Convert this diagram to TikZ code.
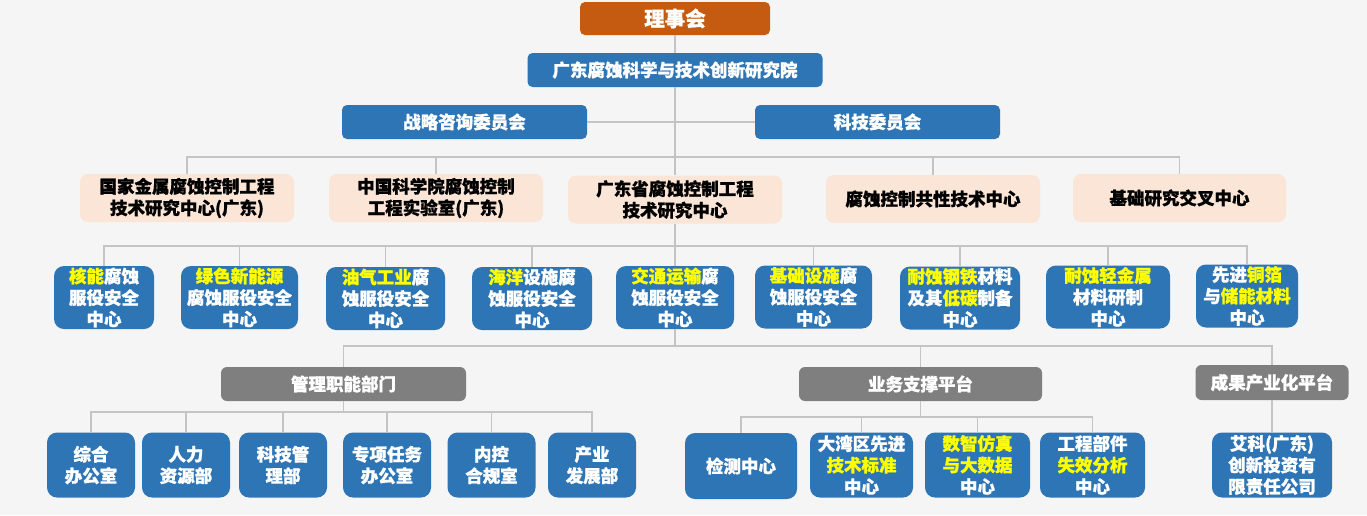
\documentclass[tikz,border=0pt]{standalone}
\usepackage{fontspec}
\setmainfont{Noto Sans CJK SC Bold}[FakeBold=1]
\usetikzlibrary{positioning}
\definecolor{boxblue}{HTML}{2E75B6}
\definecolor{boxorange}{HTML}{C55A11}
\definecolor{boxpeach}{HTML}{FBE5D6}
\definecolor{boxgray}{HTML}{7F7F7F}
\definecolor{linegray}{HTML}{C4C4C4}
\definecolor{bgcolor}{HTML}{F5F5F5}
\definecolor{hlyellow}{HTML}{FFFF00}
\newcommand{\yel}[1]{\textcolor{hlyellow}{#1}}

\begin{document}
\begin{tikzpicture}
  [x=1pt, y=-1pt,
   every node/.style={shape=rectangle, align=center, inner sep=0pt,
     font=\bfseries\fontsize{17.5}{21.5}\selectfont},
   topbox/.style={fill=boxblue, text=white, rounded corners=5pt,
     minimum width=245pt, minimum height=34pt},
   peachbox/.style={fill=boxpeach, text=black, rounded corners=8pt,
     minimum width=214pt, minimum height=48pt},
   centerbox/.style={fill=boxblue, text=white, rounded corners=10pt,
     minimum height=63pt},
   graybox/.style={fill=boxgray, text=white, rounded corners=6pt,
     minimum height=34pt},
   deptbox/.style={fill=boxblue, text=white, rounded corners=10pt,
     minimum width=88pt, minimum height=65pt},
   link/.style={draw=linegray, line width=1.3pt}]

  \fill[bgcolor] (0,0) rectangle (1367,515);
  \useasboundingbox (0,0) rectangle (1367,515);

  % top levels
  \node[fill=boxorange, text=white, rounded corners=5pt, minimum width=190pt,
    minimum height=33pt, font=\bfseries\fontsize{20.5}{24}\selectfont]
    (lsh) at (675,18.5) {理事会};
  \node[topbox, minimum width=295pt] (yjy) at (675,70) {广东腐蚀科学与技术创新研究院};
  \node[topbox] (zl) at (464.5,122) {战略咨询委员会};
  \node[topbox] (kj) at (877.5,122) {科技委员会};

  % research platforms
  \node[peachbox] (gj) at (187,198) {国家金属腐蚀控制工程\\技术研究中心(广东)};
  \node[peachbox] (zk) at (436,198) {中国科学院腐蚀控制\\工程实验室(广东)};
  \node[peachbox] (gds) at (675,199.5) {广东省腐蚀控制工程\\技术研究中心};
  \node[peachbox] (gx) at (933,199) {腐蚀控制共性技术中心};
  \node[peachbox, minimum width=213pt] (jc) at (1179.5,198) {基础研究交叉中心};

  % centers
  \node[centerbox, minimum width=100pt] (hn) at (104,297.5) {\yel{核能}腐蚀\\服役安全\\中心};
  \node[centerbox, minimum width=117pt] (ls) at (239.5,297.5) {\yel{绿色新能源}\\腐蚀服役安全\\中心};
  \node[centerbox, minimum width=119pt] (yq) at (385.5,298.5) {\yel{油气工业}腐\\蚀服役安全\\中心};
  \node[centerbox, minimum width=120pt] (hy) at (532,298.5) {\yel{海洋}设施腐\\蚀服役安全\\中心};
  \node[centerbox, minimum width=118pt] (jt) at (675,297.5) {\yel{交通运输}腐\\蚀服役安全\\中心};
  \node[centerbox, minimum width=117pt] (jcss) at (813.5,297) {\yel{基础设施}腐\\蚀服役安全\\中心};
  \node[centerbox, minimum width=120pt] (gt) at (960,298) {\yel{耐蚀钢铁}材料\\及其\yel{低碳}制备\\中心};
  \node[centerbox, minimum width=124pt] (qjs) at (1108,297) {\yel{耐蚀轻金属}\\材料研制\\中心};
  \node[centerbox, minimum width=102pt] (tb) at (1247,296) {先进\yel{铜箔}\\与\yel{储能材料}\\中心};

  % platforms
  \node[graybox, minimum width=245pt] (gl) at (343.5,384) {管理职能部门};
  \node[graybox, minimum width=243pt] (yw) at (920.5,384) {业务支撑平台};
  \node[graybox, minimum width=153pt, minimum height=35pt] (cg) at (1272,382.5) {成果产业化平台};

  % departments
  \node[deptbox] (zh) at (91,465) {综合\\办公室};
  \node[deptbox] (rl) at (186,465) {人力\\资源部};
  \node[deptbox] (kjg) at (283,465) {科技管\\理部};
  \node[deptbox] (zx) at (387,465) {专项任务\\办公室};
  \node[deptbox] (nk) at (491.5,465) {内控\\合规室};
  \node[deptbox] (cy) at (592,465) {产业\\发展部};
  \node[deptbox, minimum width=112pt, minimum height=66pt] (jiance) at (741,466) {检测中心};
  \node[deptbox, minimum width=103pt] (dwq) at (861.5,465) {大湾区先进\\\yel{技术标准}\\中心};
  \node[deptbox, minimum width=105pt] (sz) at (977.5,465) {\yel{数智仿真}\\\yel{与大数据}\\中心};
  \node[deptbox, minimum width=105pt] (gc) at (1092.5,465) {工程部件\\\yel{失效分析}\\中心};
  \node[deptbox, minimum width=120pt] (ak) at (1272,465) {艾科(广东)\\创新投资有\\限责任公司};

  % bus points
  \coordinate (b3) at (675,157);
  \coordinate (b4) at (675,246);
  \coordinate (b5) at (675,346);
  \coordinate (b6a) at (343.5,412);
  \coordinate (b6b) at (920.5,417);

  % trunk
  \draw[link] (lsh) -- (yjy);
  \draw[link] (yjy) -- (gds);
  \draw[link] (gds) -- (jt);
  \draw[link] (jt) -- (b5);
  \draw[link] (zl) -- (kj);

  % buses and ticks
  \draw[link] (gj) |- (b3) -| (jc);
  \foreach \n in {zk,gx} \draw[link] (\n) -- (\n |- b3);
  \draw[link] (hn) |- (b4) -| (tb);
  \foreach \n in {ls,yq,hy,jcss,gt,qjs} \draw[link] (\n) -- (\n |- b4);
  \draw[link] (gl) |- (b5) -| (cg);
  \draw[link] (yw) -- (yw |- b5);
  \draw[link] (gl) -- (b6a);
  \draw[link] (zh) |- (b6a) -| (cy);
  \foreach \n in {rl,kjg,zx,nk} \draw[link] (\n) -- (\n |- b6a);
  \draw[link] (yw) -- (b6b);
  \draw[link] (jiance) |- (b6b) -| (gc);
  \foreach \n in {dwq,sz} \draw[link] (\n) -- (\n |- b6b);
  \draw[link] (cg) -- (ak);
\end{tikzpicture}
\end{document}
